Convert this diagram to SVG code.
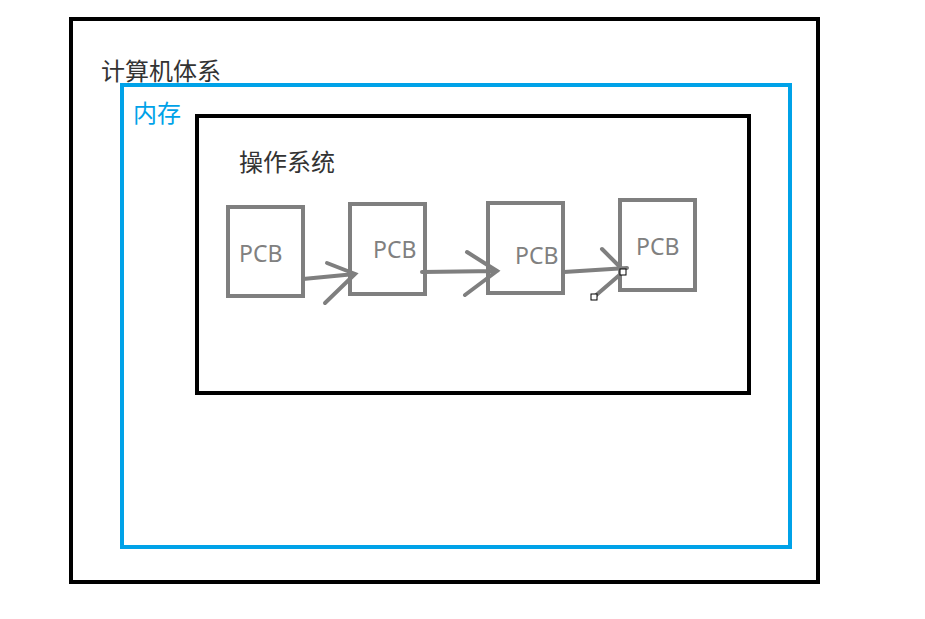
<svg xmlns="http://www.w3.org/2000/svg" width="925" height="619" viewBox="0 0 925 619">
<style>
.frame{fill:none;stroke:#000;stroke-width:4}
.mem{fill:none;stroke:#00a2e8;stroke-width:4}
.pcb{fill:#fff;stroke:#7f7f7f;stroke-width:4}
.pt{font-family:"Noto Sans","Noto Sans CJK SC",sans-serif;font-size:23px;fill:#808080}
.lbl{font-family:"Noto Sans CJK SC",sans-serif;font-size:24px;fill:#333}
.ln{fill:none;stroke:#7f7f7f;stroke-width:4;stroke-linecap:round}
.h{fill:#fff;stroke:#000;stroke-width:1}
</style>
<rect width="925" height="619" fill="#fff"/>
<g id="computer">
<rect class="frame" x="71" y="19" width="747" height="563"/>
<text class="lbl" x="101" y="80">计算机体系</text>
</g>
<g id="memory">
<rect class="mem" x="122" y="85" width="668" height="462"/>
<text class="lbl" x="133" y="122" style="fill:#00a2e8">内存</text>
</g>
<g id="os">
<rect class="frame" x="197" y="116" width="552" height="277"/>
<text class="lbl" x="239" y="171">操作系统</text>
</g>
<g id="pcb1">
<rect class="pcb" x="228" y="207" width="75" height="89"/>
<text class="pt" x="239" y="262">PCB</text>
</g>
<g id="pcb2">
<rect class="pcb" x="350" y="204" width="75" height="90"/>
<text class="pt" x="373" y="258">PCB</text>
</g>
<g id="pcb3">
<rect class="pcb" x="488" y="203" width="75" height="90"/>
<text class="pt" x="515" y="264">PCB</text>
</g>
<g id="pcb4">
<rect class="pcb" x="620" y="200" width="75" height="90"/>
<text class="pt" x="636" y="255">PCB</text>
</g>
<g id="connectors">
<path class="ln" d="M303 279 L355 274 M327 263 L355 274 L325 303"/>
<path class="ln" d="M422 272 L497 271 M467 252 L497 271 L465 295"/>
<path class="ln" d="M564 272 L627 268 M602 249 L621 268 M594 297 L623 272"/>
<rect class="h" x="591" y="294" width="6" height="6"/>
<rect class="h" x="620" y="269" width="6" height="6"/>
</g>
</svg>
